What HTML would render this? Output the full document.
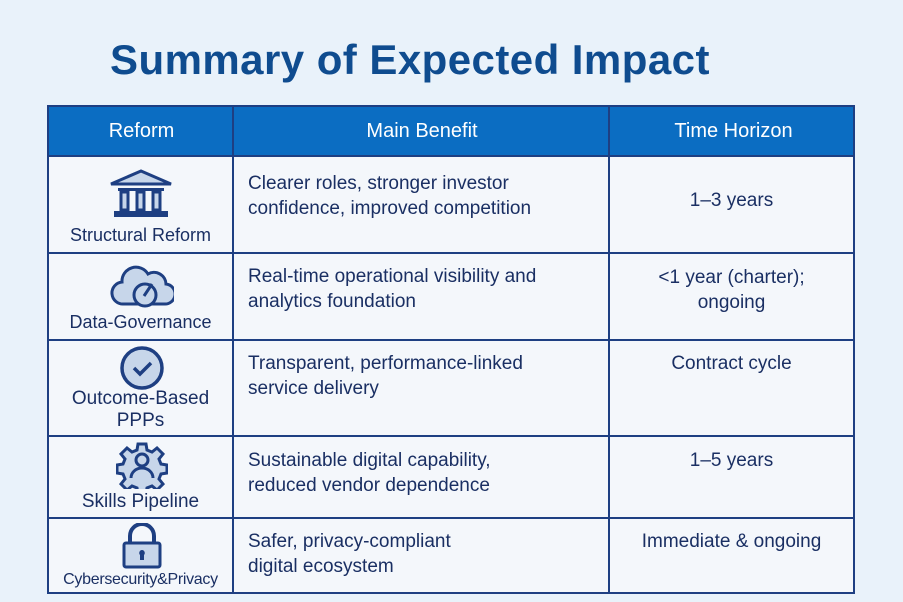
<!DOCTYPE html>
<html><head><meta charset="utf-8"><style>
body{margin:0;width:903px;height:602px;background:#e9f2fa;font-family:"Liberation Sans",sans-serif;position:relative;overflow:hidden}
.t{position:absolute;left:110px;top:36px;font-size:42px;font-weight:bold;color:#0f4c8f;letter-spacing:0.45px}
.tb{position:absolute;left:47px;top:105px;width:808px;height:489px;border:2px solid #1e3f82;box-sizing:border-box;background:#f4f7fb}
.hd{position:absolute;left:0;top:0;width:100%;height:49px;background:#0b6dc2}
.v{position:absolute;top:0;bottom:0;width:2px;background:#1e3f82}
.h{position:absolute;left:0;right:0;height:2px;background:#1e3f82}
.x{position:absolute;color:#1a2f63;font-size:19px;line-height:25px}
.hx{position:absolute;color:#fff;font-size:20px;top:13px;text-align:center}
.c{text-align:center}
svg{position:absolute}
</style></head><body>
<div class="t">Summary of Expected Impact</div>
<div class="tb">
<div class="hd"></div>
<div class="hx" style="left:0;width:185px">Reform</div>
<div class="hx" style="left:185px;width:376px">Main Benefit</div>
<div class="hx" style="left:561px;width:247px">Time Horizon</div>
<div class="v" style="left:183px"></div>
<div class="v" style="left:559px"></div>
<div class="h" style="top:48px"></div>
<div class="h" style="top:145px"></div>
<div class="h" style="top:232px"></div>
<div class="h" style="top:328px"></div>
<div class="h" style="top:410px"></div>
</div>
<svg style="left:108px;top:168px" width="66" height="52" viewBox="0 0 66 52"><path d="M33 3 L63 16 H3 Z" fill="#c7d6ea" stroke="#1e3f82" stroke-width="3"/><rect x="10" y="20" width="46" height="3" fill="#1e3f82"/><g fill="#c7d6ea" stroke="#1e3f82" stroke-width="3"><rect x="13" y="24" width="7" height="18"/><rect x="29" y="24" width="7" height="18"/><rect x="45" y="24" width="7" height="18"/></g><rect x="6" y="43" width="54" height="6" fill="#1e3f82"/></svg>
<svg style="left:110px;top:262px" width="64" height="46" viewBox="0 0 64 46"><path d="M14 42 a11 11 0 0 1 -2 -22 a14 14 0 0 1 26 -8 a12 12 0 0 1 18 10 a10 10 0 0 1 -2 20 Z" fill="#c7d6ea" stroke="#1e3f82" stroke-width="3"/><circle cx="35" cy="33" r="11" fill="#c7d6ea" stroke="#1e3f82" stroke-width="3"/><path d="M34 34 L42 22" stroke="#1e3f82" stroke-width="3"/></svg>
<svg style="left:119px;top:345px" width="46" height="46" viewBox="0 0 46 46"><circle cx="23" cy="23" r="20" fill="#c7d6ea" stroke="#1e3f82" stroke-width="3.5"/><path d="M15 23 l6 6 l11 -11" fill="none" stroke="#1e3f82" stroke-width="3.5"/></svg>
<svg style="left:116px;top:441px" width="52" height="48" viewBox="0 0 52 48"><path d="M22 3h8l1 6 5 2 5-4 6 6-4 5 2 5 6 1v8l-6 1-2 5 4 5-6 6-5-4-5 2-1 6h-8l-1-6-5-2-5 4-6-6 4-5-2-5-6-1v-8l6-1 2-5-4-5 6-6 5 4 5-2z" fill="#c7d6ea" stroke="#1e3f82" stroke-width="3"/><circle cx="26" cy="19" r="6" fill="#c7d6ea" stroke="#1e3f82" stroke-width="3"/><path d="M15 37 a11 10 0 0 1 22 0" fill="none" stroke="#1e3f82" stroke-width="3"/></svg>
<svg style="left:121px;top:523px" width="42" height="46" viewBox="0 0 42 46"><path d="M9 20 v-7 a12 12 0 0 1 24 0 v7" fill="none" stroke="#1e3f82" stroke-width="4"/><rect x="3" y="20" width="36" height="24" rx="2" fill="#c7d6ea" stroke="#1e3f82" stroke-width="3"/><path d="M21 27 a3 3 0 0 1 2 5 v5 h-4 v-5 a3 3 0 0 1 2 -5z" fill="#1e3f82"/></svg>
<div class="x c" style="left:49px;width:183px;top:223px;font-size:18px">Structural Reform</div>
<div class="x c" style="left:49px;width:183px;top:310px;font-size:18px">Data-Governance</div>
<div class="x c" style="left:49px;width:183px;top:388px;font-size:19px;line-height:22px">Outcome-Based<br>PPPs</div>
<div class="x c" style="left:49px;width:183px;top:489px;font-size:19px">Skills Pipeline</div>
<div class="x c" style="left:49px;width:183px;top:567px;font-size:16px;letter-spacing:-0.3px">Cybersecurity&amp;Privacy</div>
<div class="x" style="left:248px;top:171px">Clearer roles, stronger investor<br>confidence, improved competition</div>
<div class="x" style="left:248px;top:264px">Real-time operational visibility and<br>analytics foundation</div>
<div class="x" style="left:248px;top:351px">Transparent, performance-linked<br>service delivery</div>
<div class="x" style="left:248px;top:448px">Sustainable digital capability,<br>reduced vendor dependence</div>
<div class="x" style="left:248px;top:529px">Safer, privacy-compliant<br>digital ecosystem</div>
<div class="x c" style="left:608px;width:247px;top:188px">1–3 years</div>
<div class="x c" style="left:608px;width:247px;top:265px">&lt;1 year (charter);<br>ongoing</div>
<div class="x c" style="left:608px;width:247px;top:351px">Contract cycle</div>
<div class="x c" style="left:608px;width:247px;top:448px">1–5 years</div>
<div class="x c" style="left:608px;width:247px;top:529px">Immediate &amp; ongoing</div>
</body></html>
